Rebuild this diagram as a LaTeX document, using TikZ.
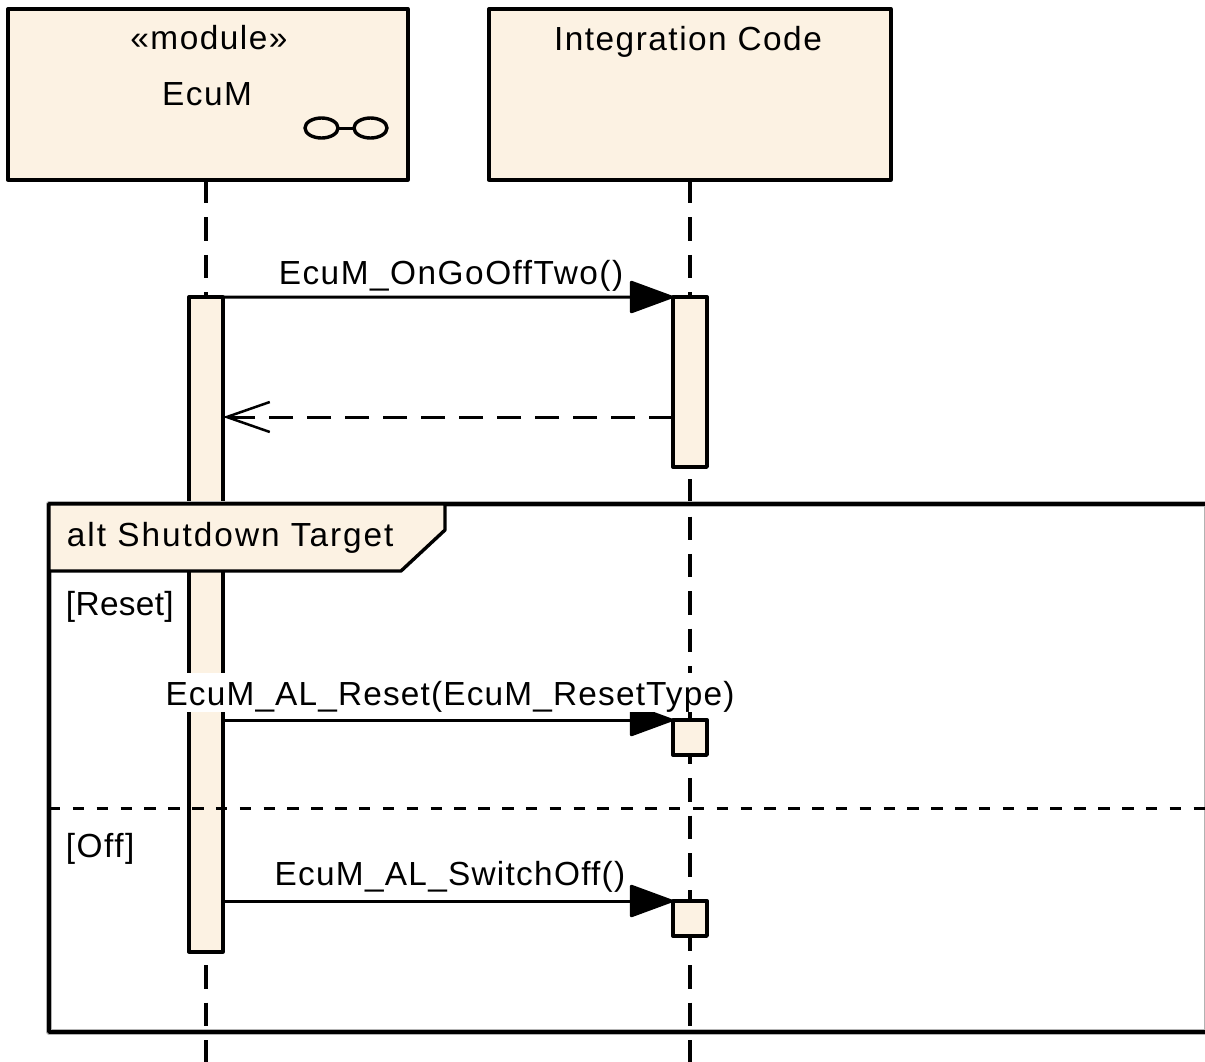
\documentclass[tikz,border=0pt]{standalone}
\usepackage{fontspec}
\setmainfont{Liberation Sans}[LetterSpace=4.5]
\usetikzlibrary{arrows.meta,shapes.geometric}
\definecolor{umlfill}{RGB}{252,242,227}
\begin{document}
\begin{tikzpicture}[x=0.02cm,y=-0.02cm,line join=round]
    \tikzstyle{every node}=[font=\fontsize{19pt}{23pt}\selectfont,inner sep=0pt,outer sep=0pt];
    \tikzstyle{lifebox}=[draw,fill=umlfill,line width=0.068cm,minimum height=3.42cm];
    \tikzstyle{active}=[draw,fill=umlfill,line width=0.068cm,minimum width=0.68cm];
    \tikzstyle{lens}=[draw,shape=ellipse,line width=0.068cm,minimum width=0.66cm,minimum height=0.4cm];
    \tikzstyle{lifeline}=[line width=0.068cm,dash pattern=on 0.47cm off 0.278cm];
    \tikzstyle{call}=[line width=0.06cm,-{Triangle[length=0.92cm,width=0.66cm,round]}];
    \tikzstyle{reply}=[line width=0.06cm,dash pattern=on 0.48cm off 0.28cm,-{Straight Barb[length=0.86cm,width=0.6cm,line width=0.05cm]}];
    \useasboundingbox (0,0) rectangle (1205,1062);

    \node at (208,94.5) (ecumbox) [lifebox,minimum width=8cm] {};
    \node at (690,94.5) (intbox) [lifebox,minimum width=8.04cm] {};
    \coordinate (ecumend) at (206,1062);
    \coordinate (intend) at (690,1062);
    \draw[lifeline] (ecumbox.south -| ecumend) to (ecumend);
    \draw[lifeline] (intbox.south -| intend) to (intend);

    \node at (209,49) (stereo) [anchor=base] {«module»};
    \node at (207,105) (ecumname) [anchor=base] {EcuM};
    \node at (688,50) (intname) [anchor=base] {Integration Code};
    \node at (321.5,128) (lensleft) [lens] {};
    \node at (370.5,128) (lensright) [lens] {};
    \draw[line width=0.06cm] (lensleft) to (lensright);

    \node at (206,624.5) (ecumact) [active,minimum height=13.1cm] {};
    \node at (690,382) (intact) [active,minimum height=3.4cm] {};
    \node at (690,737.5) (resetact) [active,minimum height=0.7cm] {};
    \node at (690,918.5) (offact) [active,minimum height=0.7cm] {};

    % frame
    \coordinate (frametl) at (49,504);
    \coordinate (shadowbr) at (1206.5,1032);
    \coordinate (framebr) at (1210,1032);
    \draw[black!30,line width=0.11cm] (frametl) rectangle (shadowbr);
    \draw[line width=0.068cm] (frametl) rectangle (framebr);
    \draw[line width=0.068cm,fill=umlfill] (frametl) -- (445,504) -- (445,530) -- (401,571) -- (49,571) -- cycle;
    \coordinate (opleft) at (49,808);
    \coordinate (opright) at (1205,808);
    \draw[line width=0.06cm,dash pattern=on 0.23cm off 0.247cm] (opleft) to (opright);

    \draw[call] (ecumact.north east) to (intact.north west);
    \coordinate (replyend) at (intact.west |- 0,417);
    \draw[reply] (replyend) to (replyend -| ecumact.east);
    \draw[call] (resetact.north west -| ecumact.east) to (resetact.north west);
    \draw[call] (offact.north west -| ecumact.east) to (offact.north west);

    \node at (67,546) (fragname) [anchor=base west] {\addfontfeature{LetterSpace=5.9}alt Shutdown Target};
    \node at (66,615) (resetguard) [anchor=base west] {\addfontfeature{LetterSpace=1}[Reset]};
    \node at (66,857) (offguard) [anchor=base west] {[Off]};

    \node at (451,284) (gooff) [anchor=base] {EcuM\_OnGoOffTwo()};
    \node at (450,705) (resetmsg) [anchor=base,fill=white,text height=0.64cm,text depth=0.14cm] {\addfontfeature{LetterSpace=3.5}EcuM\_AL\_Reset(EcuM\_ResetType)};
    \node at (450,885) (offmsg) [anchor=base] {\addfontfeature{LetterSpace=3.8}EcuM\_AL\_SwitchOff()};
\end{tikzpicture}
\end{document}
